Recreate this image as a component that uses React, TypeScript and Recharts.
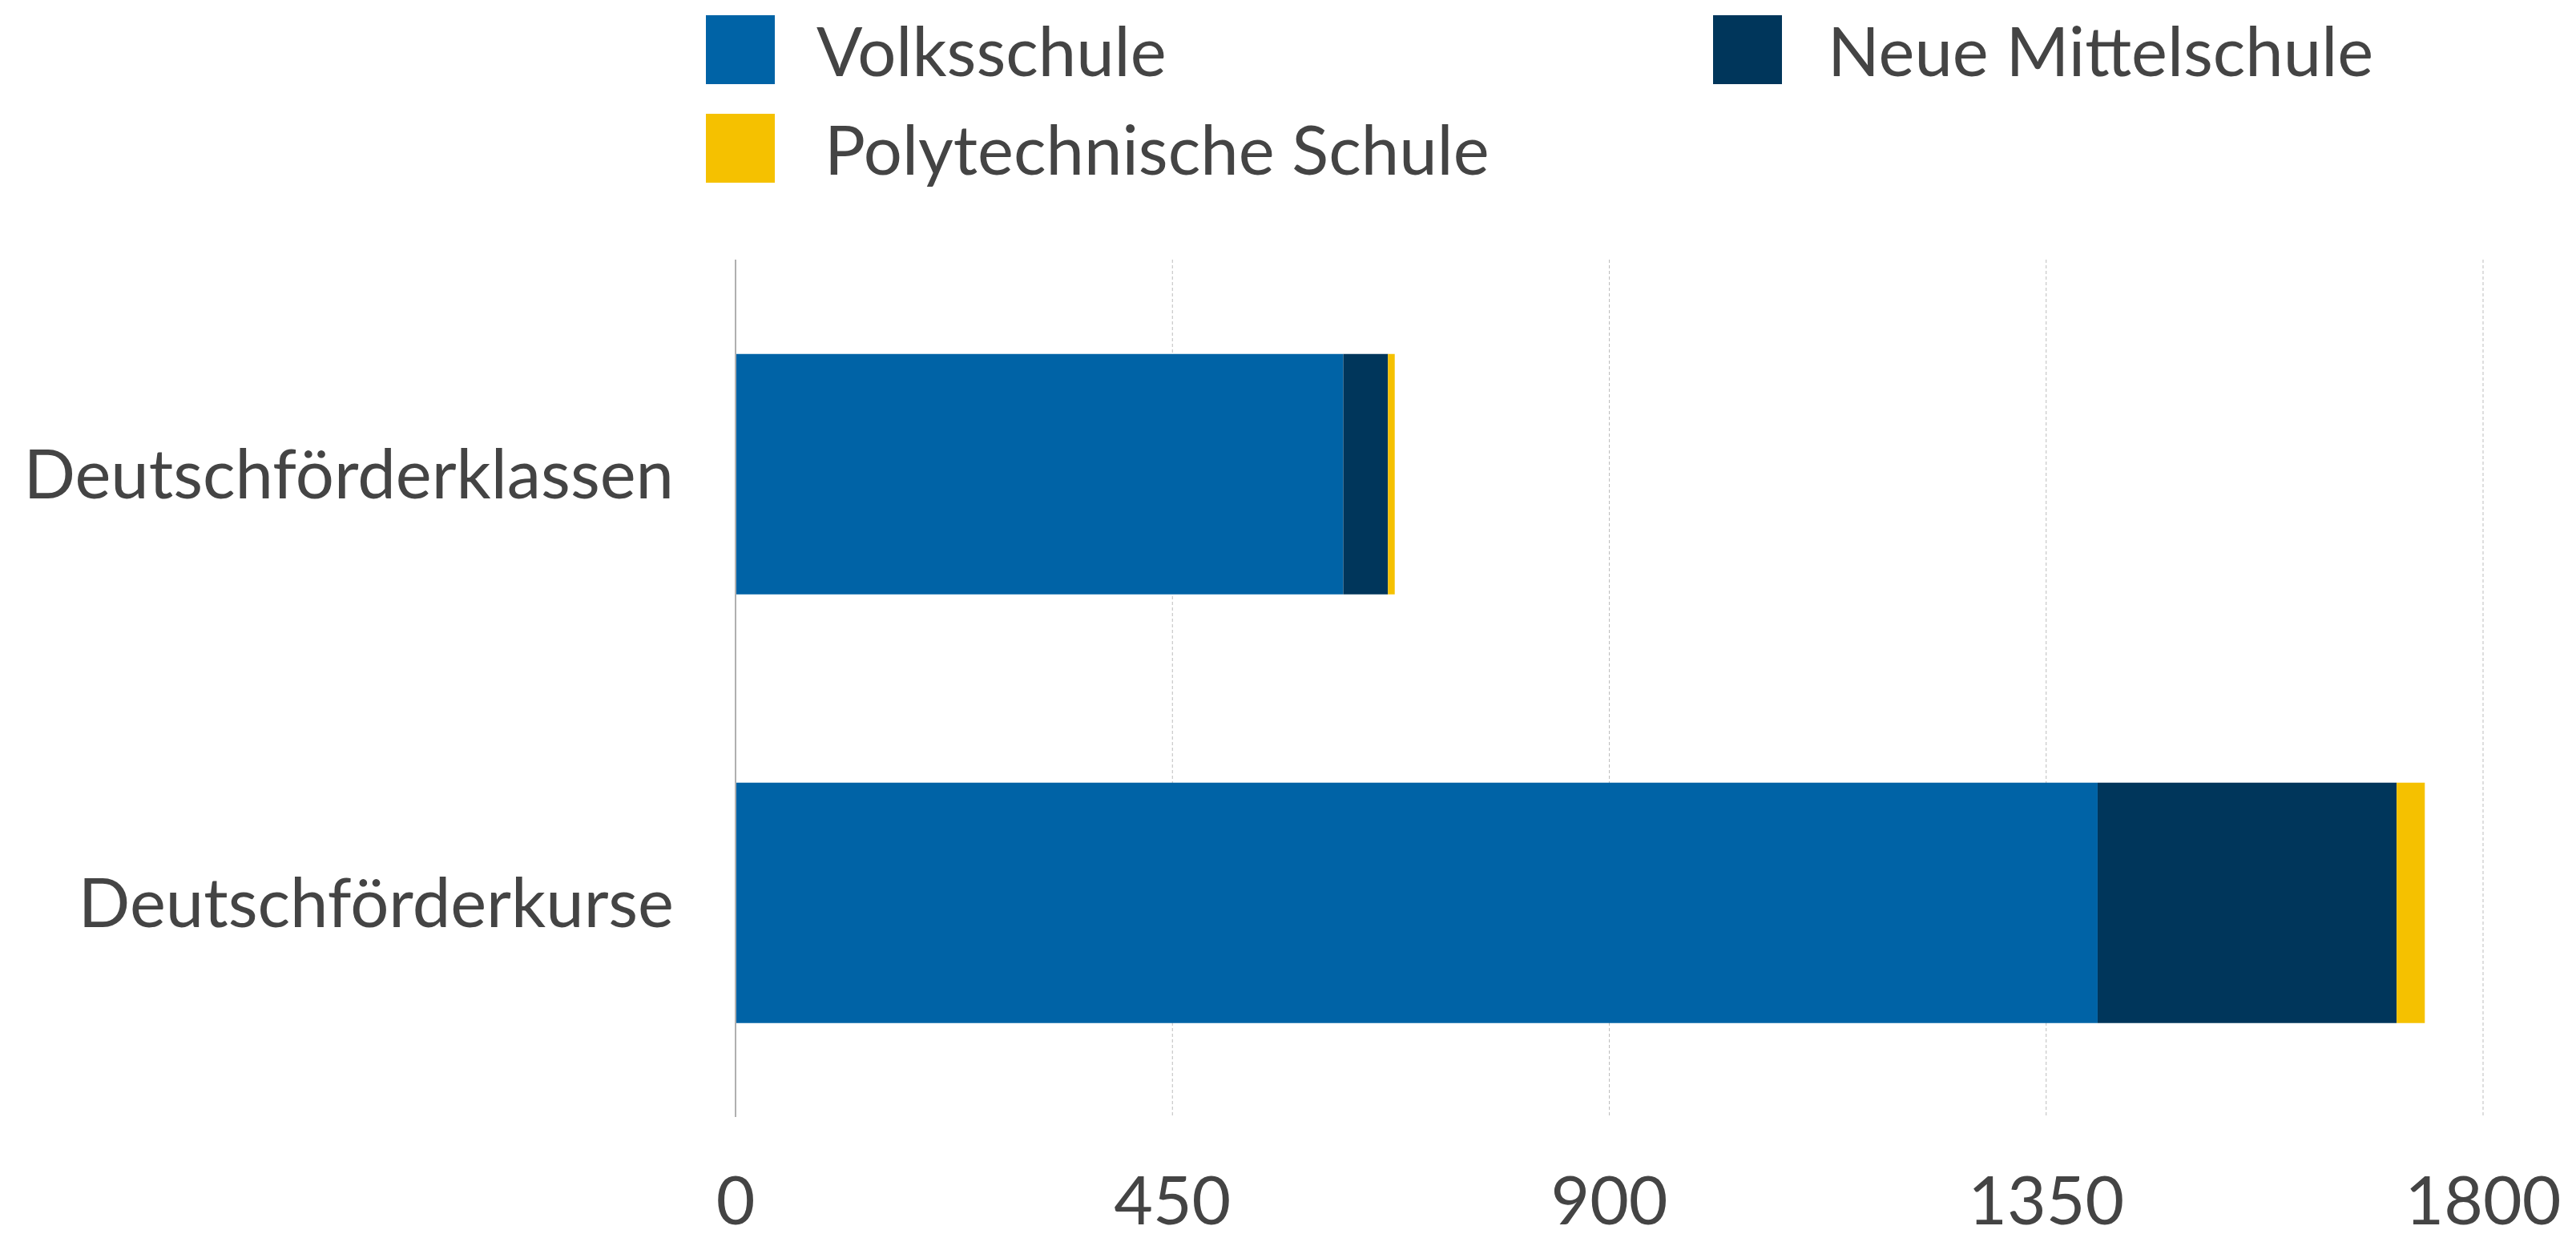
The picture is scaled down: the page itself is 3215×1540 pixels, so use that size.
import React from "react";
import { BarChart, Bar, XAxis, YAxis, CartesianGrid } from "recharts";

// categories
const categories = ["Deutschförderklassen", "Deutschförderkurse"];

// series values
const volksschule = [626, 1403];
const neueMittelschule = [46, 308];
const polytechnische = [7, 29];

const xTicks = [0, 450, 900, 1350, 1800];

const seriesList = [
    { key: "volksschule", name: "Volksschule", color: "#0063A6" },
    { key: "nms", name: "Neue Mittelschule", color: "#00365B" },
    { key: "poly", name: "Polytechnische Schule", color: "#F5C100" },
];

const data = categories.map((name, i) => ({
    name,
    volksschule: volksschule[i],
    nms: neueMittelschule[i],
    poly: polytechnische[i],
}));

const FONT = "Lato, 'Open Sans', sans-serif";
const TEXT = "#444444";

// two column legend like the original, laid over the top of the chart
const LegendBox = () => {
    const item = (s, left, top, textLeft) => (
        <div key={s.key} style={{ position: "absolute", left, top, display: "flex", alignItems: "center" }}>
            <div style={{ width: 86, height: 86, background: s.color }} />
            <span
                style={{
                    marginLeft: textLeft,
                    fontFamily: FONT,
                    fontSize: 85,
                    color: TEXT,
                    lineHeight: "86px",
                    whiteSpace: "nowrap",
                }}
            >
                {s.name}
            </span>
        </div>
    );
    return (
        <div style={{ position: "absolute", left: 0, top: 0, width: 3215, height: 250 }}>
            {item(seriesList[0], 881, 19, 52)}
            {item(seriesList[1], 2138, 19, 57)}
            {item(seriesList[2], 881, 142, 62)}
        </div>
    );
};

export default function App() {
    return (
        <div style={{ position: "absolute", left: 0, top: 0, width: 3215, height: 1540, background: "#fff" }}>
            <BarChart
                width={3215}
                height={1540}
                data={data}
                layout="vertical"
                barCategoryGap="22%"
                margin={{ top: 324, right: 116, bottom: 0, left: 0 }}
            >
                <CartesianGrid horizontal={false} stroke="#bdbdbd" strokeDasharray="4 3" />
                <XAxis
                    type="number"
                    domain={[0, 1800]}
                    ticks={xTicks}
                    axisLine={false}
                    tickLine={false}
                    tickSize={0}
                    tickMargin={74}
                    height={146}
                    interval={0}
                    tick={{ fill: TEXT, fontSize: 84, fontFamily: FONT }}
                />
                <YAxis
                    type="category"
                    dataKey="name"
                    width={918}
                    axisLine={{ stroke: "#b0b0b0", strokeWidth: 2 }}
                    tickLine={false}
                    tickSize={0}
                    tickMargin={77}
                    tick={{ fill: TEXT, fontSize: 85, fontFamily: FONT }}
                />
                {seriesList.map((s) => (
                    <Bar
                        key={s.key}
                        dataKey={s.key}
                        name={s.name}
                        stackId="a"
                        fill={s.color}
                        isAnimationActive={false}
                    />
                ))}
            </BarChart>
            <LegendBox />
        </div>
    );
}
